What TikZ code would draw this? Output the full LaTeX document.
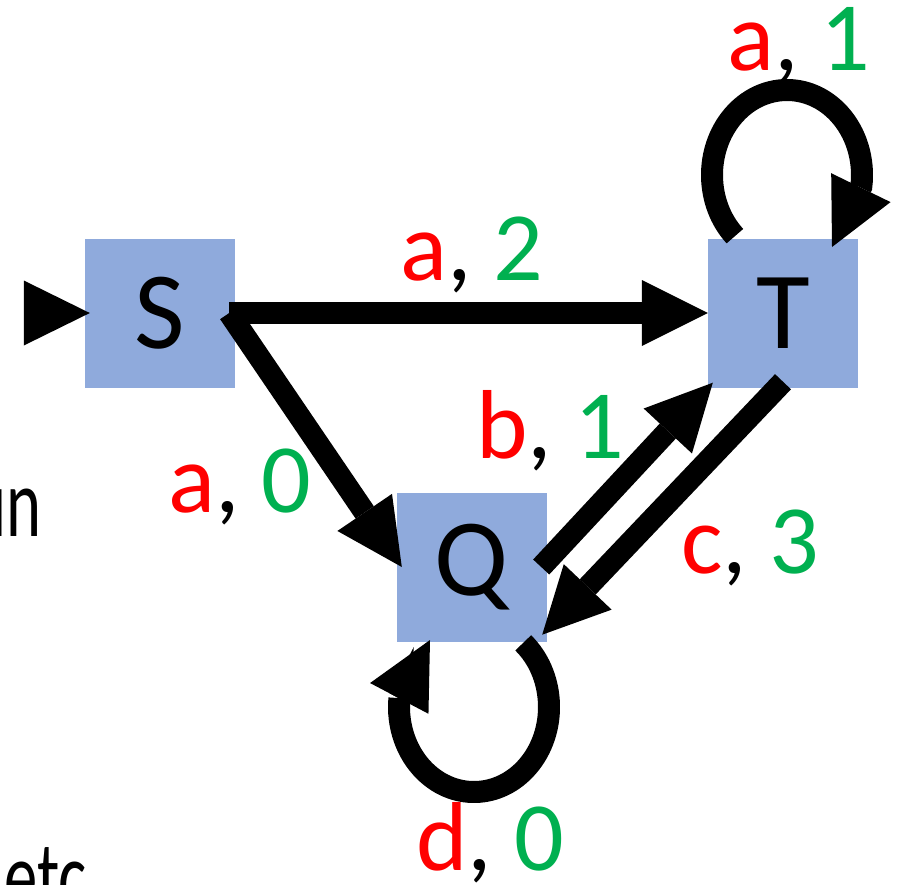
\documentclass[tikz,border=0pt]{standalone}
\usepackage{fontspec}
\setmainfont{Carlito}
\usetikzlibrary{arrows.meta}
\definecolor{boxblue}{HTML}{8FAADC}
\definecolor{lblred}{HTML}{FF0000}
\definecolor{lblgreen}{HTML}{00B050}
\tikzset{
  state/.style={fill=boxblue, minimum width=150pt, minimum height=149pt, inner sep=0pt,
    font=\fontsize{110}{110}\selectfont},
  edge/.style={line width=22pt, -{Triangle[length=66pt, width=66pt, line width=0pt]}},
  lbl/.style={anchor=base, inner sep=0pt, font=\fontsize{98}{98}\selectfont},
  side/.style={inner sep=0pt, font=\fontsize{98}{98}\selectfont}
}
\newcommand{\pair}[2]{{\color{lblred}#1}, {\color{lblgreen}#2}}
\newcommand{\narrow}[1]{\scalebox{0.68}[1]{#1}}
\begin{document}
\begin{tikzpicture}[x=1pt, y=1pt]
  \useasboundingbox (0,0) rectangle (902,-884);

  % states
  \node[state] (S) at (160,-313) {S};
  \node[state] (T) at (783,-313) {T};
  \node[state] (Q) at (472,-567) {Q};

  % initial marker
  \fill ([xshift=-61pt, yshift=32.5pt]S.west) -- ([xshift=5pt]S.west)
        -- ([xshift=-61pt, yshift=-32.5pt]S.west) -- cycle;

  % transitions
  \draw[edge] ([xshift=-6pt]S.east) -- (T.west);
  \draw[edge] ([xshift=-6pt]S.east) -- ([xshift=5pt]Q.west);
  \draw[edge] ([xshift=-6pt]Q.east) -- ([xshift=5pt, yshift=5pt]T.south west);
  \draw[edge] ([yshift=6pt]T.south) -- ([xshift=-5pt, yshift=7pt]Q.south east);

  % self loops
  \coordinate (Tloop) at (787,-175);
  \coordinate (Qloop) at (474,-707);
  \draw[edge] (Tloop) ++(226:75 and 85) arc[start angle=226, end angle=-8, x radius=75, y radius=85]
        -- (832,-247);
  \draw[edge] (Qloop) ++(49:75 and 85) arc[start angle=49, end angle=-186, x radius=75, y radius=85]
        -- (430,-640);

  % transition labels
  \node[lbl] (lST) at (472,-280) {\pair{a}{2}};
  \node[lbl] (lSQ) at (240,-512) {\pair{a}{0}};
  \node[lbl] (lQT) at (550,-458) {\pair{b}{1}};
  \node[lbl] (lTQ) at (750,-573) {\pair{c}{3}};
  \node[lbl] (lTT) at (799,-70) {\pair{a}{1}};
  \node[lbl] (lQQ) at (490,-870) {\pair{d}{0}};

  % side text
  \node[side, anchor=base east] (un) at (42,-536) {\narrow{un}};
  \node[side, anchor=base west] (etc) at (4,-909) {\narrow{etc}};
\end{tikzpicture}
\end{document}
